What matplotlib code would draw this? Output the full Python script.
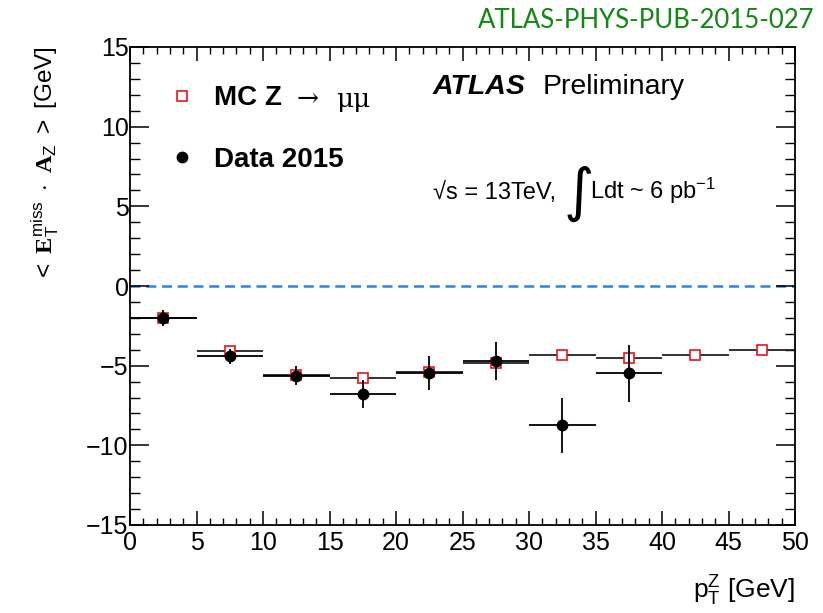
import matplotlib
matplotlib.use("Agg")
import matplotlib.pyplot as plt
import numpy as np
from matplotlib.ticker import MultipleLocator

plt.rcParams['font.family'] = ['Liberation Sans', 'DejaVu Sans']
plt.rcParams['mathtext.fontset'] = 'custom'
plt.rcParams['mathtext.rm'] = 'Liberation Sans'
plt.rcParams['mathtext.it'] = 'Liberation Sans:italic'
plt.rcParams['mathtext.bf'] = 'Liberation Serif:bold'
plt.rcParams['mathtext.sf'] = 'Liberation Sans'

# Data
bin_centers = [2.5, 7.5, 12.5, 17.5, 22.5, 27.5, 32.5, 37.5, 42.5, 47.5]
bin_halfwidth = [2.5] * 10
mc_values = [-2.0, -4.06, -5.58, -5.78, -5.42, -4.85, -4.35, -4.55, -4.32, -4.0]
data_centers = [2.5, 7.5, 12.5, 17.5, 22.5, 27.5, 32.5, 37.5]
data_halfwidth = [2.5] * 8
data_values = [-2.0, -4.42, -5.62, -6.78, -5.46, -4.72, -8.75, -5.48]
data_errors = [0.5, 0.45, 0.6, 0.85, 1.07, 1.18, 1.7, 1.8]

W, H = 823, 613
fig = plt.figure(figsize=(W / 100, H / 100), dpi=100)
ax = fig.add_axes([130 / W, 1 - 525 / H, (795 - 130) / W, (525 - 47) / H])

ax.axhline(0, color='#2f7fef', lw=1.8, ls=(0, (4.0, 2.3)), zorder=1)

ax.errorbar(bin_centers, mc_values, xerr=bin_halfwidth, fmt='s', ms=7.5,
            mfc='white', mec='#e8141b', mew=1.2, ecolor='#222222', elinewidth=1.3,
            capsize=0, zorder=2)
ax.errorbar(data_centers, data_values, xerr=data_halfwidth, yerr=data_errors,
            fmt='o', ms=7.5, mfc='black', mec='black', ecolor='black',
            elinewidth=1.3, capsize=0, zorder=3)

ax.set_xlim(0, 50)
ax.set_ylim(-15, 15)
ax.xaxis.set_major_locator(MultipleLocator(5))
ax.xaxis.set_minor_locator(MultipleLocator(1))
ax.yaxis.set_major_locator(MultipleLocator(5))
ax.yaxis.set_minor_locator(MultipleLocator(1))
ax.tick_params(axis='x', which='major', direction='in', length=10, width=1.1,
               top=True, bottom=True, labelsize=18, pad=4)
ax.tick_params(axis='x', which='minor', direction='in', length=5, width=1.0,
               top=True, bottom=True)
ax.tick_params(axis='y', which='major', direction='in', length=14, width=1.1,
               left=True, right=True, labelsize=18, pad=1)
ax.tick_params(axis='y', which='minor', direction='in', length=7, width=1.0,
               left=True, right=True)
for s in ax.spines.values():
    s.set_linewidth(1.3)

# Axis labels
fig.text(795 / W, 1 - 599 / H, r'p$_{\mathrm{T}}^{\mathrm{Z}}$ [GeV]', fontsize=19,
         ha='right', va='baseline')
fig.text(45 / W, 1 - 46 / H,
         r'$<\ \mathbf{E}_{\mathrm{T}}^{\mathrm{miss}}\ \cdot\ \mathbf{A}_{\mathrm{Z}}\ >$ [GeV]',
         fontsize=17.5, rotation=90, ha='center', va='top')

# Legend
fig.lines.append(plt.Line2D([182 / W], [1 - 96 / H], marker='s', ms=7.5, mfc='white',
                            mec='#e8141b', mew=1.2, transform=fig.transFigure))
fig.lines.append(plt.Line2D([182 / W], [1 - 157 / H], marker='o', ms=7.5, mfc='black',
                            mec='black', transform=fig.transFigure))
fig.text(214 / W, 1 - 98 / H, 'MC Z', fontsize=20, fontweight='bold', ha='left', va='center')
fig.text(296 / W, 1 - 98 / H, '→', fontsize=19, ha='left', va='center',
         family=['DejaVu Serif', 'DejaVu Sans'])
fig.text(336 / W, 1 - 100 / H, 'μμ', fontsize=19, ha='left', va='center',
         family=['DejaVu Serif', 'DejaVu Sans'])
fig.text(214 / W, 1 - 160 / H, 'Data 2015', fontsize=20, fontweight='bold', ha='left', va='center')

# ATLAS label
fig.text(433 / W, 1 - 87 / H, 'ATLAS', fontsize=20.5, fontweight='bold', style='italic',
         ha='left', va='center')
fig.text(543 / W, 1 - 87 / H, 'Preliminary', fontsize=20.5, ha='left', va='center')

fig.text(433 / W, 1 - 199 / H, '√s = 13TeV,', fontsize=17, ha='left', va='baseline')
fig.text(564 / W, 1 - 210 / H, '∫', fontsize=42, ha='left', va='baseline',
         family=['DejaVu Sans'])
fig.text(590 / W, 1 - 199 / H, r'Ldt ~ 6 pb$^{\mathrm{-1}}$', fontsize=17, ha='left', va='baseline')

fig.text(814 / W, 1 - 20 / H, 'ATLAS-PHYS-PUB-2015-027', fontsize=18.5, color='#118811',
         ha='right', va='center', family=['Lato'])

fig.savefig('out.png', dpi=100)
